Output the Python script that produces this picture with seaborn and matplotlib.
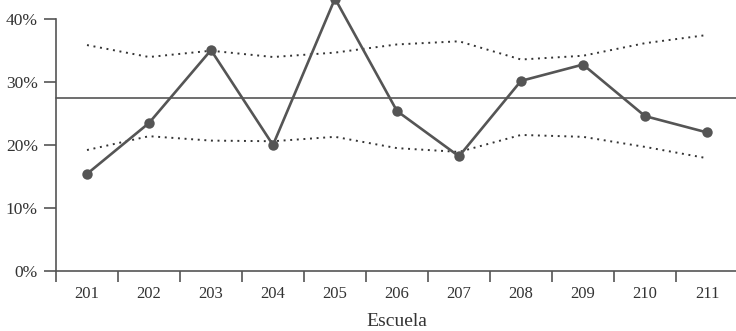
import matplotlib
matplotlib.use("Agg")
import matplotlib.pyplot as plt
import seaborn as sns
import numpy as np
import pandas as pd

# Schools and observed proportions
escuelas = ["201", "202", "203", "204", "205", "206", "207", "208", "209", "210", "211"]
proporcion = [0.154, 0.235, 0.351, 0.200, 0.433, 0.254, 0.182, 0.302, 0.328, 0.246, 0.220]
# Control limits around the overall mean
limite_sup = [0.359, 0.340, 0.350, 0.340, 0.347, 0.360, 0.365, 0.336, 0.342, 0.362, 0.375]
limite_inf = [0.192, 0.214, 0.207, 0.206, 0.213, 0.195, 0.189, 0.216, 0.213, 0.197, 0.179]
media_global = 0.274

y_ticks = [0.0, 0.1, 0.2, 0.3, 0.4]
y_labels = ["0%", "10%", "20%", "30%", "40%"]

sns.set_style("ticks")
plt.rcParams["font.family"] = ["Liberation Serif", "DejaVu Serif"]

gris = "#555555"
texto = "#333333"

df = pd.DataFrame({
    "pos": np.arange(len(escuelas)),
    "escuela": escuelas,
    "prop": proporcion,
    "sup": limite_sup,
    "inf": limite_inf,
})

fig = plt.figure(figsize=(7.36, 3.31), dpi=100)
ax = fig.add_axes([56 / 736, 1 - 270.7 / 331, 682 / 736, 251.4 / 331])

ax.axhline(media_global, color=gris, lw=1.2, clip_on=False, zorder=2)

for col in ["sup", "inf"]:
    sns.lineplot(data=df, x="pos", y=col, ax=ax, color="#333333", lw=1.4,
                 linestyle=(0, (1, 2.4)), clip_on=False, zorder=2)

sns.lineplot(data=df, x="pos", y="prop", ax=ax, color=gris, lw=1.9,
             marker="o", markersize=7.5, markeredgewidth=0, clip_on=False, zorder=3)

ax.set_xlim(-0.5, len(escuelas) - 0.5)
ax.set_ylim(0, 0.4)

# Boundary ticks between schools, labels centred on each school
ax.set_xticks(np.arange(-0.5, len(escuelas) - 0.5, 1.0))
ax.set_xticklabels([])
ax.set_xticks(np.arange(len(escuelas)), minor=True)
ax.set_xticklabels(escuelas, minor=True)
ax.tick_params(axis="x", which="major", length=8, width=1.2, color=gris)
ax.tick_params(axis="x", which="minor", length=0, pad=11, labelsize=12, labelcolor=texto)

ax.set_yticks(y_ticks)
ax.set_yticklabels(y_labels)
ax.tick_params(axis="y", length=9, width=1.2, color=gris, pad=4, labelsize=12.5, labelcolor=texto)

ax.set_xlabel("Escuela", fontsize=14, color=texto, labelpad=8)
ax.set_ylabel("")

for s in ["top", "right"]:
    ax.spines[s].set_visible(False)
for s in ["left", "bottom"]:
    ax.spines[s].set_color(gris)
    ax.spines[s].set_linewidth(1.2)

fig.savefig("out.png", dpi=100)
